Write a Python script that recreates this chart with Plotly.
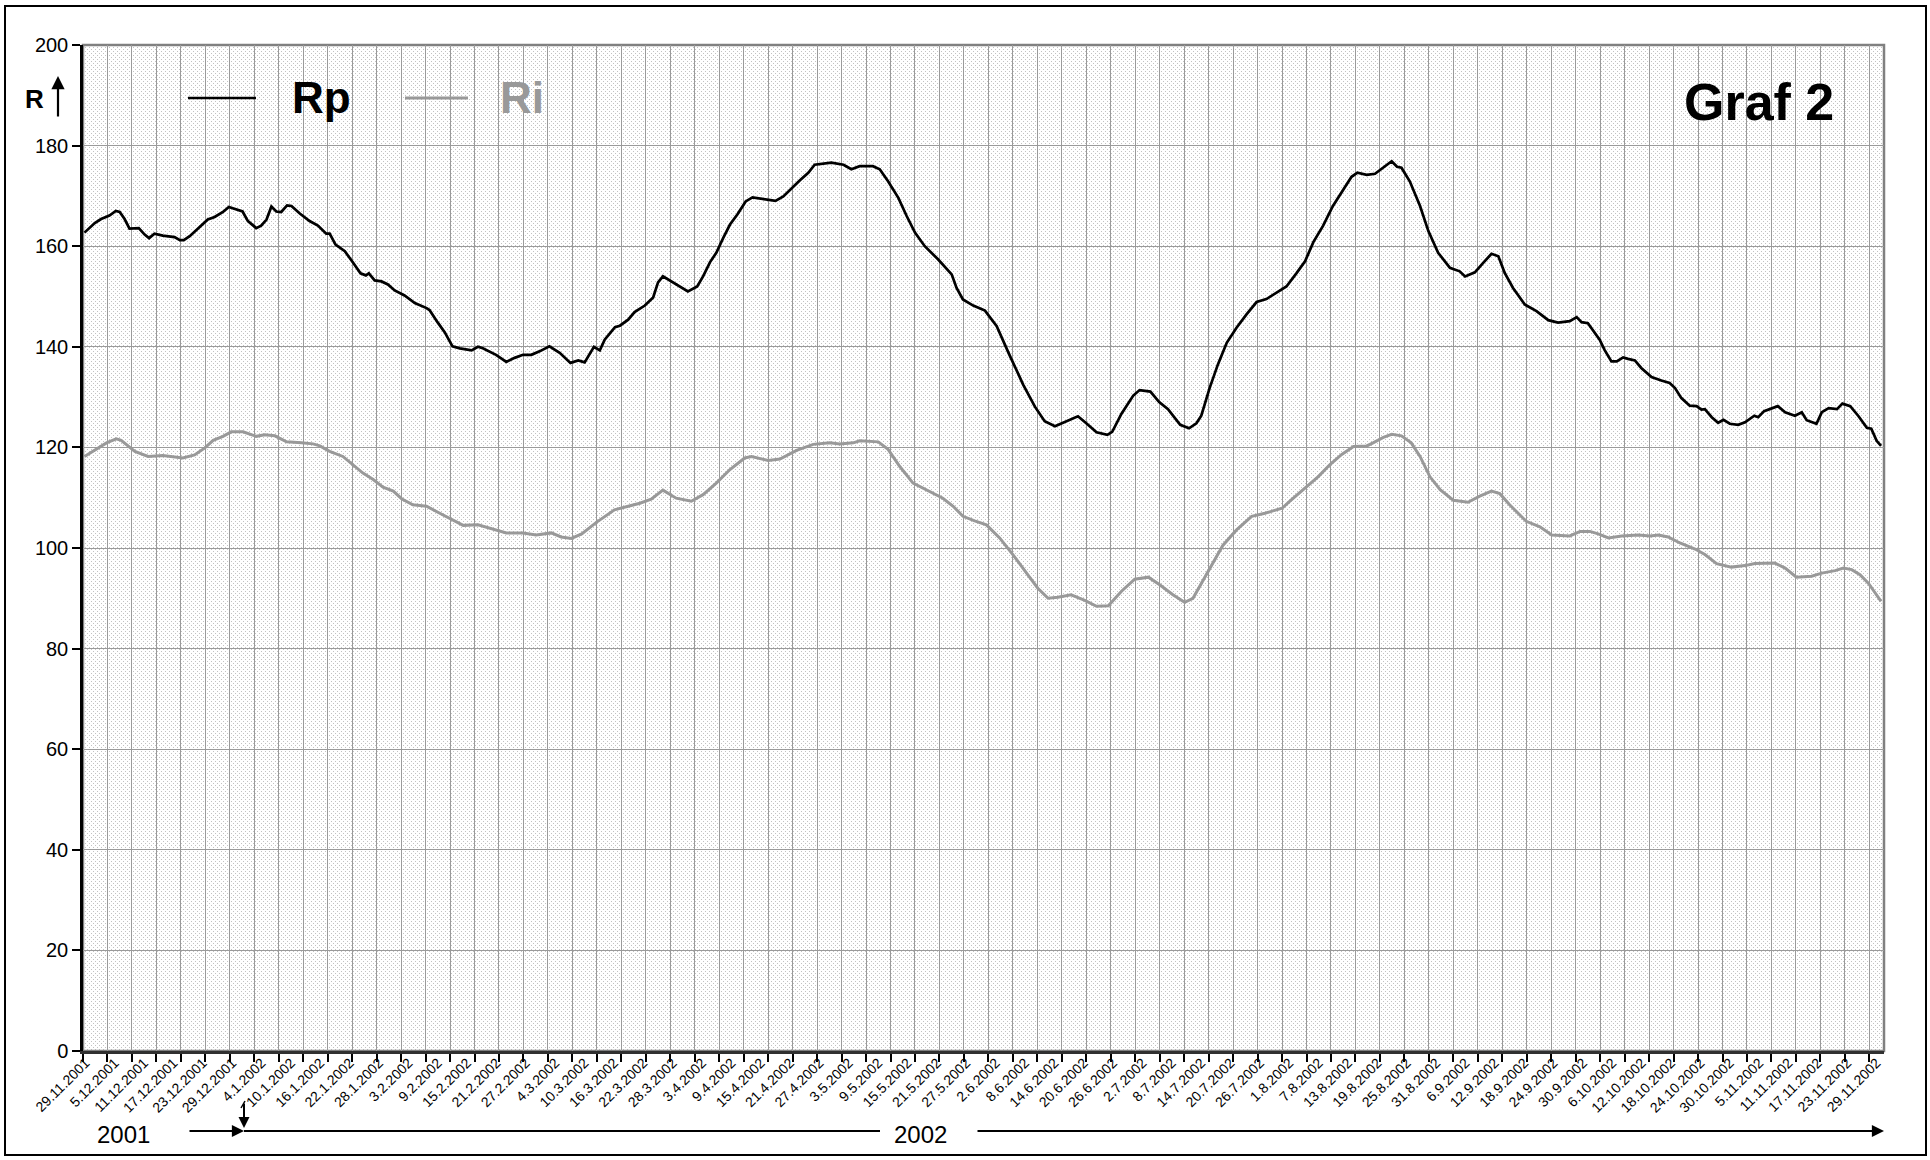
import base64
import plotly.graph_objects as go

# ---------------- data ----------------
series_names = ["Rp", "Ri"]

# day position on the category axis (0 = left edge, 1 unit = 1 day)
rp_x = [0.3, 2.4, 3.7, 5.4, 6.7, 7.5, 8.5, 9.5, 11.4, 12.6,
        13.5, 14.6, 16.3, 17.7, 18.7, 19.8, 20.6, 21.8, 23.5, 25.5,
        26.9, 28.6, 29.8, 31.0, 32.6, 33.7, 35.4, 36.4, 37.5, 38.5,
        39.5, 40.5, 41.7, 42.6, 44.3, 46.3, 48.0, 49.7, 50.4, 51.6,
        53.5, 55.2, 56.7, 57.8, 58.4, 59.6, 61.0, 62.3, 63.7, 65.7,
        67.8, 70.2, 70.8, 72.5, 73.9, 75.5, 77.0, 79.4, 80.7, 81.7,
        84.4, 86.5, 88.2, 89.9, 91.6, 93.3, 95.3, 97.4, 99.6, 101.2,
        102.5, 104.4, 105.6, 106.6, 108.7, 109.7, 111.4, 112.7, 114.8, 116.5,
        117.5, 118.5, 120.2, 121.9, 123.6, 125.5, 126.7, 128.1, 129.4, 130.8,
        132.2, 133.7, 135.4, 136.8, 139.6, 141.5, 143.1, 144.8, 146.5, 148.2,
        149.5, 152.9, 155.4, 157.0, 158.7, 161.4, 162.8, 164.5, 166.6, 168.3,
        170.0, 172.0, 174.7, 177.5, 178.5, 179.8, 181.9, 184.3, 186.7, 189.3,
        192.1, 194.5, 196.5, 198.6, 201.0, 203.3, 205.0, 207.1, 209.3, 210.3,
        212.2, 214.6, 215.9, 218.1, 219.9, 221.7, 224.2, 226.0, 227.5, 228.5,
        230.2, 231.9, 233.7, 235.7, 237.7, 239.8, 241.8, 243.9, 245.9, 248.0,
        249.7, 251.4, 253.4, 255.4, 257.5, 259.2, 260.4, 262.3, 264.0, 265.3,
        266.4, 267.4, 268.5, 269.4, 271.1, 273.2, 274.9, 276.9, 279.3, 281.3,
        282.4, 284.4, 286.1, 287.8, 289.2, 290.5, 292.2, 294.6, 297.0, 299.4,
        301.4, 303.8, 305.2, 306.2, 307.5, 308.5, 309.9, 310.9, 312.3, 313.4,
        314.7, 315.7, 317.1, 318.4, 320.5, 322.5, 324.2, 325.3, 326.6, 328.3,
        329.7, 330.7, 331.4, 332.8, 334.1, 335.2, 336.5, 338.2, 339.6, 341.5,
        342.3, 343.5, 344.7, 346.3, 347.8, 349.8, 351.2, 352.2, 354.2, 355.3,
        356.7, 358.4, 359.5, 361.1, 362.8, 364.5, 365.4, 366.5, 367.4]
rp_v = [162.7, 164.6, 165.4, 166.1, 167.0, 166.8, 165.4, 163.5, 163.6, 162.3,
        161.6, 162.5, 162.1, 161.9, 161.8, 161.2, 161.2, 162.0, 163.6, 165.3,
        165.8, 166.8, 167.8, 167.4, 166.9, 165.0, 163.6, 164.1, 165.3, 167.9,
        166.9, 166.8, 168.1, 168.0, 166.5, 165.0, 164.1, 162.5, 162.5, 160.3,
        159.0, 156.7, 154.6, 154.2, 154.6, 153.2, 153.0, 152.4, 151.2, 150.2,
        148.7, 147.7, 147.3, 144.8, 142.9, 140.1, 139.7, 139.3, 140.0, 139.7,
        138.4, 137.0, 137.8, 138.4, 138.4, 139.1, 140.1, 138.8, 136.8, 137.3,
        136.9, 140.0, 139.3, 141.4, 143.9, 144.2, 145.4, 146.9, 148.2, 149.8,
        152.8, 154.0, 153.0, 152.0, 151.0, 152.0, 154.0, 156.8, 158.7, 161.6,
        164.3, 166.3, 168.9, 169.7, 169.2, 169.0, 169.9, 171.4, 173.1, 174.6,
        176.2, 176.6, 176.2, 175.3, 175.9, 175.9, 175.3, 172.9, 169.6, 166.0,
        162.7, 160.0, 157.4, 154.4, 151.7, 149.4, 148.2, 147.2, 144.1, 138.4,
        132.5, 128.1, 125.2, 124.2, 125.2, 126.2, 124.8, 123.0, 122.5, 123.1,
        126.7, 130.3, 131.4, 131.1, 129.0, 127.6, 124.5, 123.8, 124.8, 126.3,
        131.8, 136.5, 140.8, 143.8, 146.4, 148.9, 149.5, 150.7, 152.0, 154.7,
        157.0, 160.8, 164.1, 168.0, 171.3, 173.8, 174.6, 174.2, 174.4, 175.3,
        176.2, 176.9, 175.8, 175.6, 172.9, 168.0, 163.0, 158.7, 155.7, 155.0,
        154.0, 154.8, 156.7, 158.5, 158.0, 154.7, 151.7, 148.4, 147.1, 145.3,
        144.8, 145.1, 145.9, 144.9, 144.7, 143.4, 141.4, 139.4, 137.1, 137.1,
        137.9, 137.6, 137.3, 135.8, 134.0, 133.3, 132.8, 131.8, 129.8, 128.3,
        128.2, 127.5, 127.6, 126.0, 124.9, 125.5, 124.7, 124.5, 125.0, 126.3,
        126.0, 127.2, 127.6, 128.2, 127.0, 126.3, 127.0, 125.4, 124.7, 127.0,
        127.8, 127.6, 128.7, 128.2, 126.2, 123.9, 123.7, 121.3, 120.3]

ri_x = [0.3, 2.7, 4.8, 6.8, 7.8, 10.6, 13.3, 16.3, 18.4, 20.4,
        22.8, 24.9, 26.6, 28.6, 30.3, 32.7, 35.4, 37.1, 39.2, 41.6,
        44.6, 47.0, 48.4, 50.4, 53.1, 55.2, 57.2, 59.3, 61.3, 63.4,
        65.1, 67.4, 70.2, 72.9, 74.9, 77.7, 80.7, 83.8, 86.5, 89.9,
        92.6, 95.7, 97.7, 99.8, 101.9, 104.9, 108.6, 111.4, 113.8, 116.1,
        118.5, 121.2, 124.3, 126.7, 129.4, 132.2, 135.2, 136.6, 140.0, 142.4,
        145.8, 149.2, 152.6, 154.6, 157.4, 158.7, 162.5, 164.5, 166.9, 169.6,
        172.3, 175.7, 177.8, 179.8, 182.2, 184.6, 187.3, 190.0, 192.8, 195.1,
        197.2, 199.2, 201.9, 204.7, 207.1, 209.5, 212.2, 214.9, 217.7, 220.0,
        222.7, 225.1, 226.8, 228.2, 230.2, 232.9, 235.7, 238.8, 241.5, 245.0,
        246.6, 249.7, 252.4, 254.8, 257.2, 259.6, 262.3, 263.6, 265.7, 267.4,
        269.4, 271.4, 273.2, 275.2, 277.3, 280.0, 283.0, 285.4, 287.8, 289.5,
        291.5, 294.9, 297.7, 300.1, 303.8, 305.9, 307.9, 309.6, 311.7, 314.4,
        317.8, 320.2, 321.9, 323.9, 326.3, 329.4, 331.4, 333.8, 336.8, 339.6,
        341.6, 345.7, 347.8, 350.1, 353.2, 355.3, 358.0, 359.7, 361.4, 363.1,
        364.8, 366.1, 367.4]
ri_v = [118.2, 119.7, 120.9, 121.7, 121.4, 119.2, 118.2, 118.4, 118.1, 117.9,
        118.5, 119.9, 121.4, 122.2, 123.1, 123.1, 122.2, 122.5, 122.3, 121.1,
        120.9, 120.7, 120.3, 119.2, 118.2, 116.6, 114.9, 113.6, 112.1, 111.3,
        109.8, 108.6, 108.3, 106.9, 105.9, 104.5, 104.6, 103.8, 103.0, 103.0,
        102.6, 103.0, 102.2, 101.9, 102.8, 105.1, 107.6, 108.3, 108.9, 109.7,
        111.5, 109.9, 109.3, 110.6, 112.9, 115.6, 117.9, 118.2, 117.4, 117.7,
        119.4, 120.6, 120.9, 120.7, 120.9, 121.3, 121.1, 119.6, 116.2, 112.9,
        111.6, 109.9, 108.3, 106.3, 105.4, 104.6, 102.0, 98.7, 95.0, 92.0,
        90.0, 90.2, 90.7, 89.6, 88.4, 88.5, 91.4, 93.8, 94.2, 92.7,
        90.7, 89.2, 90.0, 92.4, 95.7, 100.5, 103.6, 106.3, 106.9, 107.9,
        109.3, 111.9, 114.2, 116.6, 118.6, 120.2, 120.3, 120.9, 122.0, 122.6,
        122.3, 120.9, 118.2, 114.2, 111.6, 109.5, 109.1, 110.3, 111.3, 110.8,
        108.6, 105.3, 104.2, 102.6, 102.4, 103.3, 103.3, 102.8, 102.0, 102.4,
        102.6, 102.4, 102.6, 102.2, 101.0, 99.8, 98.7, 96.9, 96.2, 96.5,
        96.9, 97.0, 96.0, 94.2, 94.4, 95.0, 95.5, 96.0, 95.7, 94.7,
        93.0, 91.2, 89.4]

date_labels = ["29.11.2001", "5.12.2001", "11.12.2001", "17.12.2001", "23.12.2001", "29.12.2001",
               "4.1.2002", "10.1.2002", "16.1.2002", "22.1.2002", "28.1.2002",
               "3.2.2002", "9.2.2002", "15.2.2002", "21.2.2002", "27.2.2002",
               "4.3.2002", "10.3.2002", "16.3.2002", "22.3.2002", "28.3.2002",
               "3.4.2002", "9.4.2002", "15.4.2002", "21.4.2002", "27.4.2002",
               "3.5.2002", "9.5.2002", "15.5.2002", "21.5.2002", "27.5.2002",
               "2.6.2002", "8.6.2002", "14.6.2002", "20.6.2002", "26.6.2002",
               "2.7.2002", "8.7.2002", "14.7.2002", "20.7.2002", "26.7.2002",
               "1.8.2002", "7.8.2002", "13.8.2002", "19.8.2002", "25.8.2002", "31.8.2002",
               "6.9.2002", "12.9.2002", "18.9.2002", "24.9.2002", "30.9.2002",
               "6.10.2002", "12.10.2002", "18.10.2002", "24.10.2002", "30.10.2002",
               "5.11.2002", "11.11.2002", "17.11.2002", "23.11.2002", "29.11.2002"]
label_step = 6          # one label every 6 categories
grid_step = 5           # tick mark / gridline every 5 categories
n_categories = 368
y_ticks = list(range(0, 201, 20))
year_labels = ["2001", "2002"]
chart_title = "Graf 2"
y_title = "R"

# ---------------- layout geometry ----------------
W_FIG, H_FIG = 1930, 1160
ML, MR, MT, MB = 83, 46, 45, 109
PW = W_FIG - ML - MR
PH = H_FIG - MT - MB


def px(x):
    return (x - ML) / PW


def py(y):
    return 1 - (y - MT) / PH


FONT = "Liberation Sans, Arial, sans-serif"
RP_COLOR = "#000000"
RI_COLOR = "#999999"
GRID = "#9a9a9a"

label_vals = [i * label_step + 0.5 for i in range(len(date_labels))]
grid_vals = list(range(0, n_categories + 1, grid_step))

fig = go.Figure()
fig.add_trace(go.Scatter(x=rp_x, y=rp_v, mode="lines", name=series_names[0],
                         line=dict(color=RP_COLOR, width=2.7), xaxis="x", yaxis="y",
                         showlegend=False))
fig.add_trace(go.Scatter(x=ri_x, y=ri_v, mode="lines", name=series_names[1],
                         line=dict(color=RI_COLOR, width=3), xaxis="x2", yaxis="y",
                         showlegend=False))

# dotted background pattern (like the spreadsheet fill)
svg = ('<svg xmlns="http://www.w3.org/2000/svg" width="%d" height="%d">'
       '<defs><pattern id="p" width="4" height="4" patternUnits="userSpaceOnUse">'
       '<rect x="0" y="0" width="4" height="4" fill="#ffffff"/>'
       '<rect x="0" y="0" width="1" height="1" fill="#c2c2c2"/>'
       '<rect x="2" y="2" width="1" height="1" fill="#c2c2c2"/>'
       '</pattern></defs><rect width="100%%" height="100%%" fill="url(#p)"/></svg>') % (PW, PH)
bg_src = "data:image/svg+xml;base64," + base64.b64encode(svg.encode()).decode()

shapes = [
    # plot frame (grey top/right)
    dict(type="rect", xref="paper", yref="paper", x0=0, x1=1, y0=0, y1=1,
         line=dict(color="#808080", width=2.5), layer="below"),
    # outer chart border
    dict(type="rect", xref="paper", yref="paper", x0=px(5), x1=px(1926), y0=py(1155), y1=py(6),
         line=dict(color="black", width=2)),
    # legend lines
    dict(type="line", xref="paper", yref="paper", x0=px(188), x1=px(256), y0=py(98), y1=py(98),
         line=dict(color=RP_COLOR, width=2.7)),
    dict(type="line", xref="paper", yref="paper", x0=px(405), x1=px(468), y0=py(98), y1=py(98),
         line=dict(color=RI_COLOR, width=3)),
    # year line between arrows
    dict(type="line", xref="paper", yref="paper", x0=px(244), x1=px(880), y0=py(1131), y1=py(1131),
         line=dict(color="black", width=2.2)),
    # small hook on the vertical marker
    dict(type="line", xref="paper", yref="paper", x0=px(241), x1=px(245), y0=py(1108), y1=py(1101),
         line=dict(color="black", width=1.5)),
]

annotations = [
    dict(text="<b>%s</b>" % series_names[0], x=px(290), y=py(98), xref="paper", yref="paper",
         xanchor="left", yanchor="middle", showarrow=False,
         font=dict(family=FONT, size=44, color=RP_COLOR)),
    dict(text="<b>%s</b>" % series_names[1], x=px(498), y=py(98), xref="paper", yref="paper",
         xanchor="left", yanchor="middle", showarrow=False,
         font=dict(family=FONT, size=44, color=RI_COLOR)),
    dict(text="<b>%s</b>" % chart_title, x=px(1836), y=py(102), xref="paper", yref="paper",
         xanchor="right", yanchor="middle", showarrow=False,
         font=dict(family=FONT, size=52, color="black")),
    dict(text="<b>%s</b>" % y_title, x=px(46), y=py(99), xref="paper", yref="paper",
         xanchor="right", yanchor="middle", showarrow=False,
         font=dict(family=FONT, size=26, color="black")),
    # arrow next to R
    dict(text="", x=px(58), y=py(76), xref="paper", yref="paper", showarrow=True,
         ax=0, ay=42, arrowhead=2, arrowsize=1.2, arrowwidth=2.2, arrowcolor="black"),
    # year labels
    dict(text=year_labels[0], x=px(123), y=py(1134), xref="paper", yref="paper",
         xanchor="center", yanchor="middle", showarrow=False,
         font=dict(family=FONT, size=24, color="black")),
    dict(text=year_labels[1], x=px(920), y=py(1134), xref="paper", yref="paper",
         xanchor="center", yanchor="middle", showarrow=False,
         font=dict(family=FONT, size=24, color="black")),
    # arrow 2001 -> boundary
    dict(text="", x=px(244), y=py(1131), xref="paper", yref="paper", showarrow=True,
         ax=-56, ay=0, arrowhead=2, arrowsize=1.1, arrowwidth=2.2, arrowcolor="black"),
    # vertical marker arrow
    dict(text="", x=px(244), y=py(1128), xref="paper", yref="paper", showarrow=True,
         ax=0, ay=-26, arrowhead=2, arrowsize=1.1, arrowwidth=2, arrowcolor="black"),
    # long arrow to the end
    dict(text="", x=px(1884), y=py(1131), xref="paper", yref="paper", showarrow=True,
         ax=-(1884 - 976), ay=0, arrowhead=2, arrowsize=1.1, arrowwidth=2.2, arrowcolor="black"),
]

fig.update_layout(
    width=W_FIG, height=H_FIG,
    margin=dict(l=ML, r=MR, t=MT, b=MB, pad=0),
    paper_bgcolor="white", plot_bgcolor="white",
    font=dict(family=FONT, color="black"),
    showlegend=False,
    images=[dict(source=bg_src, xref="paper", yref="paper", x=0, y=1, sizex=1, sizey=1,
                 sizing="stretch", xanchor="left", yanchor="top", layer="below")],
    xaxis=dict(range=[0, n_categories], tickmode="array", tickvals=grid_vals,
               showticklabels=False, ticks="outside", ticklen=8, tickwidth=1.5, tickcolor="black",
               showgrid=True, gridcolor=GRID, gridwidth=1.2,
               showline=True, linecolor="#303030", linewidth=2.5, zeroline=False, fixedrange=True),
    xaxis2=dict(range=[0, n_categories], overlaying="x", anchor="y", side="bottom",
                tickmode="array", tickvals=label_vals, ticktext=date_labels, tickangle=-45,
                ticks="", showgrid=False, showline=False, zeroline=False,
                tickfont=dict(family=FONT, size=14, color="black")),
    yaxis=dict(range=[0, 200], tickmode="array", tickvals=y_ticks,
               ticks="outside", ticklen=8, tickwidth=1.5, tickcolor="black",
               showgrid=True, gridcolor=GRID, gridwidth=1.2,
               showline=True, linecolor="black", linewidth=2.5, zeroline=False,
               tickfont=dict(family=FONT, size=20, color="black")),
    shapes=shapes,
    annotations=annotations,
)

fig.write_html("out.html", config={"displayModeBar": False},
               post_script="document.body.style.margin='0px';")
